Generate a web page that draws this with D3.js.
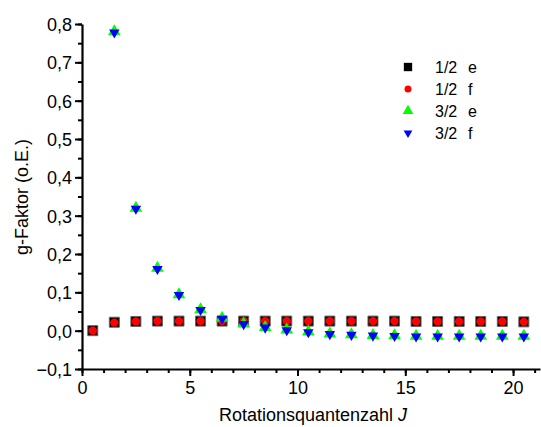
<!DOCTYPE html>
<html>
<head>
<meta charset="utf-8">
<script src="https://cdn.jsdelivr.net/npm/d3@7"></script>
<style>
  body { margin: 0; background: #fff; }
  svg { display: block; font-family: "Liberation Sans", Arial, sans-serif; }
</style>
</head>
<body>
<script>
// rotational quantum number J
const J = [0.5, 1.5, 2.5, 3.5, 4.5, 5.5, 6.5, 7.5, 8.5, 9.5, 10.5,
  11.5, 12.5, 13.5, 14.5, 15.5, 16.5, 17.5, 18.5, 19.5, 20.5];

// g-factor values
const half_e = [0.000, 0.022, 0.024, 0.025, 0.025, 0.025, 0.025, 0.025, 0.025, 0.025, 0.025,
  0.025, 0.025, 0.025, 0.025, 0.024, 0.024, 0.024, 0.024, 0.024, 0.023];
const half_f = [0.000, 0.021, 0.024, 0.025, 0.025, 0.025, 0.025, 0.025, 0.025, 0.025, 0.025,
  0.025, 0.025, 0.025, 0.025, 0.024, 0.024, 0.024, 0.024, 0.024, 0.023];
const threeHalf_e = [null, 0.780, 0.320, 0.163, 0.094, 0.055, 0.033, 0.018, 0.009, 0.002, -0.003,
  -0.008, -0.010, -0.012, -0.013, -0.014, -0.014, -0.014, -0.014, -0.014, -0.014];
const threeHalf_f = [null, 0.778, 0.318, 0.161, 0.093, 0.054, 0.031, 0.017, 0.008, 0.001, -0.004,
  -0.009, -0.011, -0.013, -0.014, -0.015, -0.015, -0.015, -0.015, -0.015, -0.015];

const legendNums = ["1/2", "1/2", "3/2", "3/2"];
const legendParity = ["e", "f", "e", "f"];
const xTicks = [0, 5, 10, 15, 20];
const yTicks = [-0.1, 0, 0.1, 0.2, 0.3, 0.4, 0.5, 0.6, 0.7, 0.8];

const w = 541, h = 427;

const svg = d3.select("body").append("svg")
  .attr("width", w)
  .attr("height", h);

const x = d3.scaleLinear().domain([0, 21.25]).range([82, 540]);
const y = d3.scaleLinear().domain([-0.1, 0.8]).range([369, 24]);

const comma = d => d3.format(".1f")(d).replace(".", ",");

// minor ticks first
svg.append("g")
  .attr("transform", `translate(0,${y(-0.1)})`)
  .call(d3.axisBottom(x).tickValues(d3.range(0, 22, 1)).tickSize(4).tickFormat(""))
  .call(g => g.select(".domain").remove())
  .call(g => g.selectAll("line").attr("stroke-width", 2));
svg.append("g")
  .attr("transform", `translate(${x(0)},0)`)
  .call(d3.axisLeft(y).tickValues(d3.range(-0.1, 0.81, 0.05)).tickSize(4).tickFormat(""))
  .call(g => g.select(".domain").remove())
  .call(g => g.selectAll("line").attr("stroke-width", 2));

// major axes
const xAxis = svg.append("g")
  .attr("transform", `translate(0,${y(-0.1)})`)
  .call(d3.axisBottom(x).tickValues(xTicks).tickSize(7).tickSizeOuter(0).tickPadding(5));
const yAxis = svg.append("g")
  .attr("transform", `translate(${x(0)},0)`)
  .call(d3.axisLeft(y).tickValues(yTicks).tickFormat(comma).tickSize(7).tickSizeOuter(0).tickPadding(3));

[xAxis, yAxis].forEach(a => {
  a.select(".domain").attr("stroke-width", 2.2);
  a.selectAll("line").attr("stroke-width", 2);
  a.selectAll("text").attr("font-size", 18).attr("fill", "#000")
    .attr("font-family", "Liberation Sans, Arial, sans-serif");
});
yAxis.selectAll("text").attr("dy", "0.36em");

// axis titles
svg.append("text")
  .attr("transform", "translate(28,197) rotate(-90)")
  .attr("text-anchor", "middle")
  .attr("font-size", 18)
  .text("g-Faktor (o.E.)");

const xt = svg.append("text")
  .attr("x", 313).attr("y", 421)
  .attr("text-anchor", "middle")
  .attr("font-size", 18);
xt.append("tspan").text("Rotationsquantenzahl ");
xt.append("tspan").attr("font-style", "italic").text("J");

// series
const series = [
  { vals: half_e, shape: d3.symbolSquare, size: 100, color: "#000000" },
  { vals: half_f, shape: d3.symbolCircle, size: 55, color: "#ff0000" },
  { vals: threeHalf_e, shape: d3.symbolTriangle, size: 70, color: "#00ff00", rot: 0 },
  { vals: threeHalf_f, shape: d3.symbolTriangle, size: 48, color: "#0000ff", rot: 180 }
];

series.forEach(s => {
  const pts = J.map((j, i) => [j, s.vals[i]]).filter(p => p[1] !== null);
  svg.append("g").selectAll("path")
    .data(pts)
    .enter()
    .append("path")
    .attr("d", d3.symbol().type(s.shape).size(s.size))
    .attr("transform", d => `translate(${x(d[0])},${y(d[1])}) rotate(${s.rot || 0})`)
    .attr("fill", s.color)
    .attr("stroke", s.shape === d3.symbolSquare ? "#666" : "none")
    .attr("stroke-width", 1);
});

// legend
const legend = svg.append("g");
series.forEach((s, i) => {
  const ly = 67 + i * 22;
  legend.append("path")
    .attr("d", d3.symbol().type(s.shape).size(s.size * 0.7))
    .attr("transform", `translate(408,${ly}) rotate(${s.rot || 0})`)
    .attr("fill", s.color);
  legend.append("text")
    .attr("x", 435).attr("y", ly)
    .attr("dy", "0.36em")
    .attr("font-size", 16)
    .text(legendNums[i]);
  legend.append("text")
    .attr("x", 468).attr("y", ly)
    .attr("dy", "0.36em")
    .attr("font-size", 16)
    .text(legendParity[i]);
});
</script>
</body>
</html>
